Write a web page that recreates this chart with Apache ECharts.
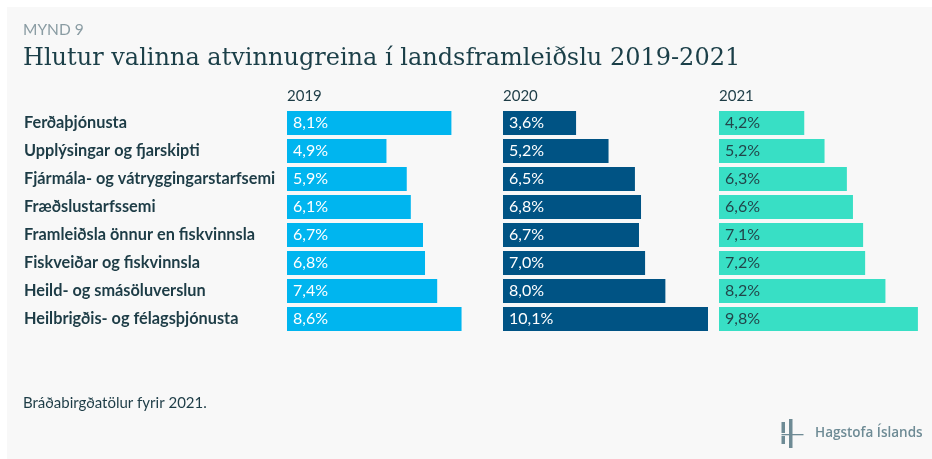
<!DOCTYPE html>
<html>
<head>
<meta charset="utf-8">
<script src="https://cdn.jsdelivr.net/npm/echarts@6/dist/echarts.min.js"></script>
<style>
  html, body { margin: 0; padding: 0; background: #ffffff; }
  #chart { width: 932px; height: 459px; }
</style>
</head>
<body>
<div id="chart"></div>
<script>
const categories = [
  "Ferðaþjónusta",
  "Upplýsingar og fjarskipti",
  "Fjármála- og vátryggingarstarfsemi",
  "Fræðslustarfssemi",
  "Framleiðsla önnur en fiskvinnsla",
  "Fiskveiðar og fiskvinnsla",
  "Heild- og smásöluverslun",
  "Heilbrigðis- og félagsþjónusta"
];
const years = ["2019", "2020", "2021"];
const values2019 = [8.1, 4.9, 5.9, 6.1, 6.7, 6.8, 7.4, 8.6];
const values2020 = [3.6, 5.2, 6.5, 6.8, 6.7, 7.0, 8.0, 10.1];
const values2021 = [4.2, 5.2, 6.3, 6.6, 7.1, 7.2, 8.2, 9.8];

const seriesValues = [values2019, values2020, values2021];
const colors = ["#00b5ef", "#005384", "#38dfc5"];
const labelColors = ["#ffffff", "#ffffff", "#22464b"];
const gridLefts = [287, 503, 719];
const gridWidth = 205;
const xMax = 10.1;
const gridTop = 109;
const gridHeight = 224;

const fmt = v => v.toFixed(1).replace('.', ',') + '%';

const grids = gridLefts.map(l => ({ left: l, top: gridTop, width: gridWidth, height: gridHeight, containLabel: false }));
const xAxes = gridLefts.map((l, i) => ({
  gridIndex: i, type: 'value', min: 0, max: xMax, show: false
}));
const yAxes = gridLefts.map((l, i) => ({
  gridIndex: i, type: 'category', data: categories, inverse: true,
  axisLine: { show: false }, axisTick: { show: false }, splitLine: { show: false },
  axisLabel: i === 0 ? {
    show: true, align: 'left', margin: 263,
    fontFamily: 'Lato', fontWeight: 'bold', fontSize: 16.3, color: '#1d3c46'
  } : { show: false }
}));
const series = seriesValues.map((vals, i) => ({
  type: 'bar', xAxisIndex: i, yAxisIndex: i, data: vals,
  barCategoryGap: '14.3%',
  itemStyle: { color: colors[i] },
  label: {
    show: true, position: 'insideLeft', distance: 6,
    formatter: p => fmt(p.value),
    fontFamily: 'Lato', fontSize: 16, color: labelColors[i]
  },
  silent: true
}));

const graphics = [
  { type: 'rect', shape: { x: 7, y: 7, width: 925, height: 452 }, style: { fill: '#f8f8f8' }, z: -10, silent: true },
  { type: 'text', x: 23, y: 30, style: { text: 'MYND 9', font: '15.5px Lato', fill: '#8a9ca3', textVerticalAlign: 'middle' } },
  { type: 'text', x: 23, y: 59, style: { text: 'Hlutur valinna atvinnugreina í landsframleiðslu 2019-2021', font: '500 24px "DejaVu Serif"', fill: '#1b3f48', textVerticalAlign: 'middle' } },
  { type: 'text', x: 23, y: 403.5, style: { text: 'Bráðabirgðatölur fyrir 2021.', font: '15px Lato', fill: '#1d3c46', textVerticalAlign: 'middle' } },
  { type: 'text', x: 815, y: 433.5, style: { text: 'Hagstofa Íslands', font: '600 13.5px "Open Sans"', fill: '#6e8b95', textVerticalAlign: 'middle' } },
  { type: 'rect', shape: { x: 781.5, y: 422, width: 3.5, height: 11 }, style: { fill: '#6e8b95' } },
  { type: 'rect', shape: { x: 781.5, y: 436, width: 3.5, height: 8 }, style: { fill: '#6e8b95' } },
  { type: 'rect', shape: { x: 789, y: 419, width: 3.5, height: 29 }, style: { fill: '#6e8b95' } },
  { type: 'rect', shape: { x: 781.5, y: 434, width: 22, height: 1.3 }, style: { fill: '#6e8b95' } }
];
years.forEach((y, i) => {
  graphics.push({ type: 'text', x: gridLefts[i], y: 96, style: { text: y, font: '15px Lato', fill: '#1d3c46', textVerticalAlign: 'middle' } });
});

const chart = echarts.init(document.getElementById('chart'), null, { renderer: 'canvas' });
chart.setOption({
  animation: false,
  backgroundColor: '#ffffff',
  grid: grids,
  xAxis: xAxes,
  yAxis: yAxes,
  series: series,
  graphic: graphics
});
</script>
</body>
</html>
